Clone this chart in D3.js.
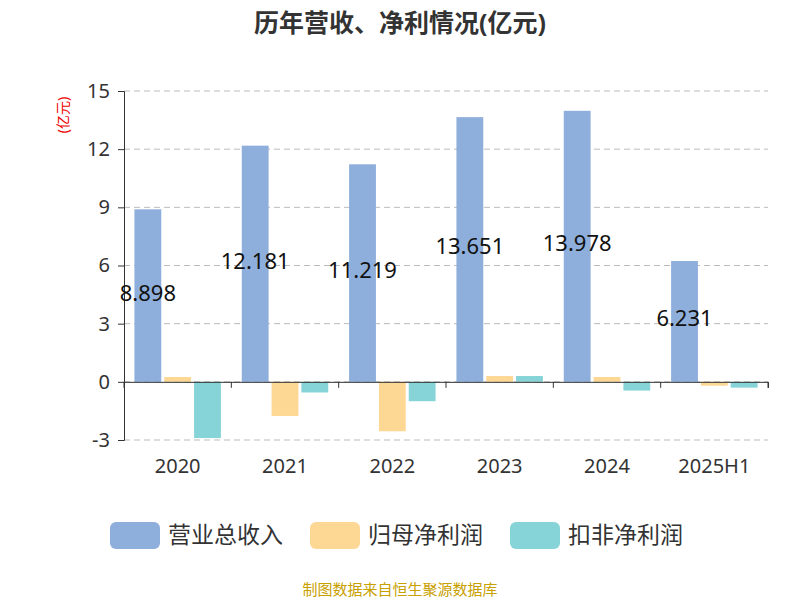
<!DOCTYPE html>
<html><head><meta charset="utf-8">
<script src="https://cdn.jsdelivr.net/npm/d3@7"></script>
<style>body{margin:0;background:#fff}text{font-family:"Noto Sans","Noto Sans CJK SC",sans-serif}</style>
</head><body><svg id="c" width="800" height="600"></svg>
<script>
const categories=["2020","2021","2022","2023","2024","2025H1"];
const seriesNames=["营业总收入","归母净利润","扣非净利润"];
const revenue=[8.898,12.181,11.219,13.651,13.978,6.231];
const netProfit=[0.25,-1.76,-2.55,0.3,0.25,-0.2];
const deductedProfit=[-2.9,-0.55,-1.0,0.3,-0.45,-0.3];
const yTicks=[-3,0,3,6,9,12,15];
const colors=["#8eaedb","#fdd794","#86d4d8"];
const series=[revenue,netProfit,deductedProfit];

const svg=d3.select("#c");
const L=124,R=768,T=91,B=440;
const x=d3.scaleBand().domain(categories).range([L,R]);
const x1=d3.scaleBand().domain([0,1,2]).range([0,x.bandwidth()]).paddingInner(0.1).paddingOuter(0.35);
const y=d3.scaleLinear().domain([-3,15]).range([B,T]);

svg.append("text").attr("x",400).attr("y",32).attr("text-anchor","middle").attr("font-size",25).attr("font-weight","bold").attr("fill","#333").text("历年营收、净利情况(亿元)");

yTicks.forEach(t=>{
  svg.append("line").attr("x1",L).attr("x2",R).attr("y1",y(t)).attr("y2",y(t)).attr("stroke","#bbb").attr("stroke-dasharray","6,4");
});
const ya=svg.append("g").attr("transform",`translate(${L},0)`).call(d3.axisLeft(y).tickValues(yTicks).tickSize(6).tickPadding(8).tickFormat(d=>String(d)));
ya.select(".domain").attr("stroke","#333");
ya.selectAll(".tick line").attr("stroke","#333");
ya.selectAll("text").attr("font-size",20).attr("fill","#333");

svg.append("text").attr("transform","translate(68,115) rotate(-90)").attr("text-anchor","middle").attr("font-size",14).attr("fill","#e00").text("(亿元)");

series.forEach((s,i)=>{
  svg.selectAll(null).data(s).enter().append("rect")
    .attr("x",(d,j)=>x(categories[j])+x1(i)).attr("width",x1.bandwidth())
    .attr("y",d=>y(Math.max(0,d))).attr("height",d=>Math.abs(y(d)-y(0)))
    .attr("fill",colors[i]);
});

const xa=svg.append("g").attr("transform",`translate(0,${y(0)})`).call(d3.axisBottom(x).tickSize(6).tickFormat(""));
xa.select(".domain").attr("stroke","#333");
xa.selectAll(".tick line").attr("transform",`translate(${-x.bandwidth()/2},0)`).attr("stroke","#333");
svg.append("line").attr("x1",R).attr("x2",R).attr("y1",y(0)).attr("y2",y(0)+6).attr("stroke","#333");
categories.forEach(c=>{
  svg.append("text").attr("x",x(c)+x.bandwidth()/2).attr("y",473).attr("text-anchor","middle").attr("font-size",20).attr("fill","#333").text(c);
});

svg.selectAll(null).data(revenue).enter().append("text")
  .attr("x",(d,j)=>x(categories[j])+x1(0)+x1.bandwidth()/2)
  .attr("y",d=>y(d/2)+5).attr("text-anchor","middle").attr("font-size",22).attr("fill","#111").text(d=>d.toFixed(3));

const lx=[110,310,510];
seriesNames.forEach((n,i)=>{
  svg.append("rect").attr("x",lx[i]).attr("y",522).attr("width",50).attr("height",27).attr("rx",6).attr("fill",colors[i]);
  svg.append("text").attr("x",lx[i]+58).attr("y",543).attr("font-size",23).attr("fill","#333").style("font-family","Noto Sans CJK SC").text(n);
});
svg.append("text").attr("x",400).attr("y",595).attr("text-anchor","middle").attr("font-size",15).attr("fill","#c8a000").style("font-family","Noto Sans CJK SC").text("制图数据来自恒生聚源数据库");
</script></body></html>
